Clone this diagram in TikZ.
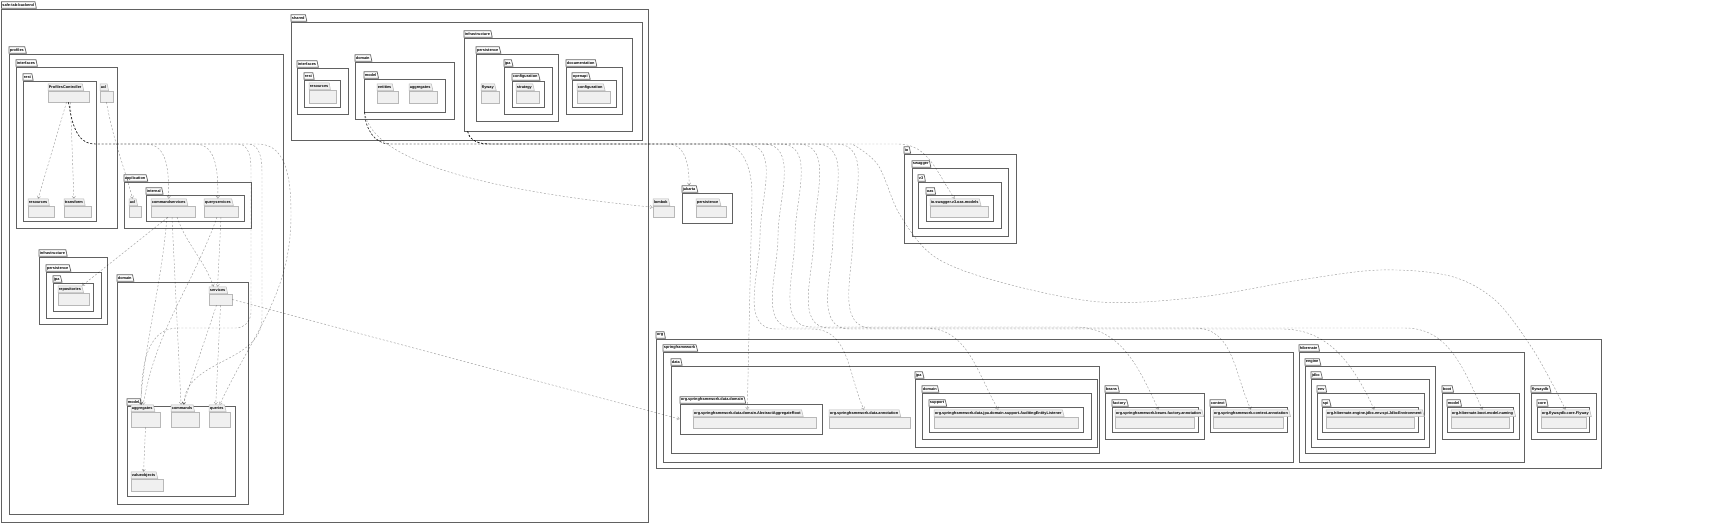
\documentclass[tikz,border=0pt]{standalone}
\usepackage{fontspec}
\setmainfont{Liberation Sans}
\usetikzlibrary{shapes.geometric,arrows.meta,positioning,fit}

\begin{document}
\begin{tikzpicture}[
    x=1pt, y=-1pt,
    % Package frames, empty packages and their tabs
    pkg/.style={draw=black!62, line width=0.7pt, fill=white, inner sep=0pt},
    leaf/.style={draw=black!28, line width=0.5pt, fill=black!6, inner sep=0pt},
    tab/.style={trapezium, trapezium left angle=90, trapezium right angle=70, trapezium stretches=true, draw=black!62, line width=0.7pt, fill=white, font={\fontsize{3.85}{4.6}\selectfont\bfseries}, inner xsep=0.9pt, inner ysep=0.5pt, minimum height=6.6pt, anchor=bottom left corner},
    leaftab/.style={tab, draw=black!28, line width=0.5pt, fill=black!6},
    % Dependencies
    dep/.style={-{Straight Barb[length=2.2pt,width=3.4pt]}, dash pattern=on 2pt off 1.8pt, line width=0.45pt, draw=black, draw opacity=0.38}
]

\useasboundingbox (0,0) rectangle (1731,523);

% Backend root
\node[pkg, fit={(1.5,9) (648,522)}] (backend) {};
\node[tab] (backend-tab) at (backend.north west) {safe-tab-backend};

% Profiles bounded context
\node[pkg, fit={(9,54) (283,514)}] (profiles) {};
\node[tab] (profiles-tab) at (profiles.north west) {profiles};

\node[pkg, fit={(16,67) (117,228)}] (pinterfaces) {};
\node[tab] (pinterfaces-tab) at (pinterfaces.north west) {interfaces};
\node[pkg, fit={(23,81) (96,221)}] (prest) {};
\node[tab] (prest-tab) at (prest.north west) {rest};
\node[leaf, fit={(48,91) (89,102)}] (ctrl) {};
\node[leaftab] (ctrl-tab) at (ctrl.north west) {ProfilesController};
\node[leaf, fit={(28,206) (54,217)}] (resources) {};
\node[leaftab] (resources-tab) at (resources.north west) {resources};
\node[leaf, fit={(64,206) (91,217)}] (transform) {};
\node[leaftab] (transform-tab) at (transform.north west) {transform};
\node[leaf, fit={(100,91) (113,102)}] (papi) {};
\node[leaftab] (papi-tab) at (papi.north west) {acl};

\node[pkg, fit={(124,182) (251,228)}] (application) {};
\node[tab] (application-tab) at (application.north west) {application};
\node[leaf, fit={(129,206) (141,217)}] (scl) {};
\node[leaftab] (scl-tab) at (scl.north west) {acl};
\node[pkg, fit={(146,195) (244,221)}] (internal) {};
\node[tab] (internal-tab) at (internal.north west) {internal};
\node[leaf, fit={(151,206) (195,217)}] (cmdsvc) {};
\node[leaftab] (cmdsvc-tab) at (cmdsvc.north west) {commandservices};
\node[leaf, fit={(204,206) (238,217)}] (qrysvc) {};
\node[leaftab] (qrysvc-tab) at (qrysvc.north west) {queryservices};

\node[pkg, fit={(39,257) (107,324)}] (pinfra) {};
\node[tab] (pinfra-tab) at (pinfra.north west) {infrastructure};
\node[pkg, fit={(46,272) (101,318)}] (ppersist) {};
\node[tab] (ppersist-tab) at (ppersist.north west) {persistence};
\node[pkg, fit={(53,283) (93,311)}] (pjpa) {};
\node[tab] (pjpa-tab) at (pjpa.north west) {jpa};
\node[leaf, fit={(58,293) (89,305)}] (repos) {};
\node[leaftab] (repos-tab) at (repos.north west) {repositories};

\node[pkg, fit={(117,282) (248,504)}] (pdomain) {};
\node[tab] (pdomain-tab) at (pdomain.north west) {domain};
\node[leaf, fit={(209,294) (232,305)}] (services) {};
\node[leaftab] (services-tab) at (services.north west) {services};
\node[pkg, fit={(127,406) (235,496)}] (pmodel) {};
\node[tab] (pmodel-tab) at (pmodel.north west) {model};
\node[leaf, fit={(131,412) (160,427)}] (aggs) {};
\node[leaftab] (aggs-tab) at (aggs.north west) {aggregates};
\node[leaf, fit={(171,412) (199,427)}] (cmds) {};
\node[leaftab] (cmds-tab) at (cmds.north west) {commands};
\node[leaf, fit={(209,412) (230,427)}] (qrys) {};
\node[leaftab] (qrys-tab) at (qrys.north west) {queries};
\node[leaf, fit={(131,479) (163,491)}] (valobj) {};
\node[leaftab] (valobj-tab) at (valobj.north west) {valueobjects};

% Shared kernel
\node[pkg, fit={(291,22) (642,140)}] (shared) {};
\node[tab] (shared-tab) at (shared.north west) {shared};

\node[pkg, fit={(297,68) (348,114)}] (sinterfaces) {};
\node[tab] (sinterfaces-tab) at (sinterfaces.north west) {interfaces};
\node[pkg, fit={(304,80) (340,107)}] (srest) {};
\node[tab] (srest-tab) at (srest.north west) {rest};
\node[leaf, fit={(309,90) (336,103)}] (sresources) {};
\node[leaftab] (sresources-tab) at (sresources.north west) {resources};

\node[pkg, fit={(355,62) (454,119)}] (sdomain) {};
\node[tab] (sdomain-tab) at (sdomain.north west) {domain};
\node[pkg, fit={(364,79) (445,112)}] (smodel) {};
\node[tab] (smodel-tab) at (smodel.north west) {model};
\node[leaf, fit={(377,91) (398,103)}] (entities) {};
\node[leaftab] (entities-tab) at (entities.north west) {entities};
\node[leaf, fit={(409,91) (437,103)}] (saggs) {};
\node[leaftab] (saggs-tab) at (saggs.north west) {aggregates};

\node[pkg, fit={(464,38) (632,131)}] (sinfra) {};
\node[tab] (sinfra-tab) at (sinfra.north west) {infrastructure};
\node[pkg, fit={(476,54) (558,121)}] (spersist) {};
\node[tab] (spersist-tab) at (spersist.north west) {persistence};
\node[leaf, fit={(481,91) (499,103)}] (flyway) {};
\node[leaftab] (flyway-tab) at (flyway.north west) {flyway};
\node[pkg, fit={(504,67) (552,114)}] (sjpa) {};
\node[tab] (sjpa-tab) at (sjpa.north west) {jpa};
\node[pkg, fit={(512,81) (544,107)}] (sjpaconf) {};
\node[tab] (sjpaconf-tab) at (sjpaconf.north west) {configuration};
\node[leaf, fit={(516,91) (539,103)}] (strategy) {};
\node[leaftab] (strategy-tab) at (strategy.north west) {strategy};
\node[pkg, fit={(566,67) (622,114)}] (docs) {};
\node[tab] (docs-tab) at (docs.north west) {documentation};
\node[pkg, fit={(572,80) (616,107)}] (openapi) {};
\node[tab] (openapi-tab) at (openapi.north west) {openapi};
\node[leaf, fit={(577,91) (610,103)}] (openapiconf) {};
\node[leaftab] (openapiconf-tab) at (openapiconf.north west) {configuration};

% Third party packages
\node[leaf, fit={(653,206) (674,217)}] (lombok) {};
\node[leaftab] (lombok-tab) at (lombok.north west) {lombok};
\node[pkg, fit={(682,193) (732,223)}] (jakarta) {};
\node[tab] (jakarta-tab) at (jakarta.north west) {jakarta};
\node[leaf, fit={(696,206) (726,217)}] (jpersist) {};
\node[leaftab] (jpersist-tab) at (jpersist.north west) {persistence};

\node[pkg, fit={(904,154) (1016,243)}] (io) {};
\node[tab] (io-tab) at (io.north west) {io};
\node[pkg, fit={(912,168) (1008,236)}] (swagger) {};
\node[tab] (swagger-tab) at (swagger.north west) {swagger};
\node[pkg, fit={(918,182) (1001,228)}] (vthree) {};
\node[tab] (vthree-tab) at (vthree.north west) {v3};
\node[pkg, fit={(926,195) (993,221)}] (oas) {};
\node[tab] (oas-tab) at (oas.north west) {oas};
\node[leaf, fit={(930,206) (988,217)}] (oasmodels) {};
\node[leaftab] (oasmodels-tab) at (oasmodels.north west) {io.swagger.v3.oas.models};

\node[pkg, fit={(656,339) (1601,468)}] (org) {};
\node[tab] (org-tab) at (org.north west) {org};
\node[pkg, fit={(663,352) (1293,462)}] (spring) {};
\node[tab] (spring-tab) at (spring.north west) {springframework};
\node[pkg, fit={(671,366) (1099,453)}] (sdata) {};
\node[tab] (sdata-tab) at (sdata.north west) {data};
\node[pkg, fit={(680,404) (822,434)}] (datadomain) {};
\node[tab] (datadomain-tab) at (datadomain.north west) {org.springframework.data.domain};
\node[leaf, fit={(693,417) (816,428)}] (aggroot) {};
\node[leaftab] (aggroot-tab) at (aggroot.north west) {org.springframework.data.domain.AbstractAggregateRoot};
\node[leaf, fit={(829,417) (910,428)}] (dataanno) {};
\node[leaftab] (dataanno-tab) at (dataanno.north west) {org.springframework.data.annotation};
\node[pkg, fit={(915,379) (1097,447)}] (djpa) {};
\node[tab] (djpa-tab) at (djpa.north west) {jpa};
\node[pkg, fit={(922,393) (1091,439)}] (ddomain) {};
\node[tab] (ddomain-tab) at (ddomain.north west) {domain};
\node[pkg, fit={(929,407) (1083,432)}] (dsupport) {};
\node[tab] (dsupport-tab) at (dsupport.north west) {support};
\node[leaf, fit={(934,417) (1078,428)}] (auditing) {};
\node[leaftab] (auditing-tab) at (auditing.north west) {org.springframework.data.jpa.domain.support.AuditingEntityListener};
\node[pkg, fit={(1105,393) (1204,439)}] (beans) {};
\node[tab] (beans-tab) at (beans.north west) {beans};
\node[pkg, fit={(1112,407) (1198,432)}] (factory) {};
\node[tab] (factory-tab) at (factory.north west) {factory};
\node[leaf, fit={(1115,417) (1194,428)}] (beansanno) {};
\node[leaftab] (beansanno-tab) at (beansanno.north west) {org.springframework.beans.factory.annotation};
\node[pkg, fit={(1210,407) (1287,432)}] (context) {};
\node[tab] (context-tab) at (context.north west) {context};
\node[leaf, fit={(1213,417) (1283,428)}] (ctxanno) {};
\node[leaftab] (ctxanno-tab) at (ctxanno.north west) {org.springframework.context.annotation};

\node[pkg, fit={(1299,352) (1524,462)}] (hibernate) {};
\node[tab] (hibernate-tab) at (hibernate.north west) {hibernate};
\node[pkg, fit={(1305,366) (1435,453)}] (engine) {};
\node[tab] (engine-tab) at (engine.north west) {engine};
\node[pkg, fit={(1311,379) (1429,447)}] (jdbc) {};
\node[tab] (jdbc-tab) at (jdbc.north west) {jdbc};
\node[pkg, fit={(1317,393) (1424,439)}] (env) {};
\node[tab] (env-tab) at (env.north west) {env};
\node[pkg, fit={(1322,407) (1418,432)}] (spi) {};
\node[tab] (spi-tab) at (spi.north west) {spi};
\node[leaf, fit={(1326,417) (1414,428)}] (jdbcenv) {};
\node[leaftab] (jdbcenv-tab) at (jdbcenv.north west) {org.hibernate.engine.jdbc.env.spi.JdbcEnvironment};
\node[pkg, fit={(1442,393) (1519,439)}] (boot) {};
\node[tab] (boot-tab) at (boot.north west) {boot};
\node[pkg, fit={(1447,407) (1513,432)}] (hmodel) {};
\node[tab] (hmodel-tab) at (hmodel.north west) {model};
\node[leaf, fit={(1451,417) (1509,428)}] (naming) {};
\node[leaftab] (naming-tab) at (naming.north west) {org.hibernate.boot.model.naming};

\node[pkg, fit={(1531,393) (1596,439)}] (flywaydb) {};
\node[tab] (flywaydb-tab) at (flywaydb.north west) {flywaydb};
\node[pkg, fit={(1537,407) (1589,432)}] (fcore) {};
\node[tab] (fcore-tab) at (fcore.north west) {core};
\node[leaf, fit={(1541,417) (1586,428)}] (flywaycls) {};
\node[leaftab] (flywaycls-tab) at (flywaycls.north west) {org.flywaydb.core.Flyway};

% Profiles internal dependencies
\draw[dep] ([xshift=-2pt]ctrl.south) -- (resources-tab.north);
\draw[dep] ([xshift=2pt]ctrl.south) -- (transform-tab.north);
\draw[dep] (papi.south) to[out=-80,in=105] (scl-tab.north);
\draw[dep] (ctrl.south) to[out=-80,in=180] (95,144) -- (146,144) to[out=0,in=90] (cmdsvc-tab.north);
\draw[dep] (ctrl.south) to[out=-80,in=180] (95,144) -- (195,144) to[out=0,in=90] (qrysvc-tab.north);
\draw[dep] (ctrl.south) to[out=-80,in=180] (95,144) -- (238,144) to[out=0,in=90] (251,168) -- (251,312) to[out=-90,in=0] (236,328) -- (178,328) to[out=180,in=90] ([xshift=-1pt]aggs-tab.north);
\draw[dep] (ctrl.south) to[out=-80,in=180] (95,144) -- (248,144) to[out=0,in=90] (262,172) -- (262,318) to[out=-90,in=90] ([xshift=2pt]cmds-tab.north);
\draw[dep] (ctrl.south) to[out=-80,in=180] (95,144) -- (258,144) to[out=0,in=90] (291,215) to[out=-90,in=65] ([xshift=3pt]qrys-tab.north);

\draw[dep] ([xshift=-5pt]cmdsvc.south) -- (repos-tab.top right corner);
\draw[dep] ([xshift=-6pt]cmdsvc.south) to[out=-95,in=85] ([xshift=-2pt]aggs-tab.north);
\draw[dep] ([xshift=-1pt]cmdsvc.south) -- ([xshift=-1pt]cmds-tab.north);
\draw[dep] ([xshift=4pt]cmdsvc.south) to[out=-70,in=110] ([xshift=-4pt]services-tab.north);
\draw[dep] ([xshift=-4pt]qrysvc.south) to[out=-110,in=80] ([xshift=1pt]aggs-tab.north);
\draw[dep] (qrysvc.south) -- (services-tab.north);

\draw[dep] ([xshift=-4pt]services.south) -- ([xshift=1pt]cmds-tab.north);
\draw[dep] (services.south) -- ([xshift=-1pt]qrys-tab.north);
\draw[dep] (aggs.south) -- (valobj-tab.north);
\draw[dep] (services.east) -- (datadomain.west);

% Shared kernel to third party packages
\draw[dep] ([xshift=1pt]smodel.south west) .. controls (372,160) and (480,190) .. ([yshift=-1.5pt]lombok.north west);
\draw[dep] ([xshift=1pt]smodel.south west) to[out=-88,in=180] (390,144) -- (668,144) to[out=0,in=90] (jakarta-tab.north);
\draw[dep] ([xshift=1pt]smodel.south west) to[out=-88,in=180] (390,144) -- (722,144) to[out=0,in=90] (752,195) -- (aggroot-tab.north);
\draw[dep] ([xshift=1pt]smodel.south west) to[out=-88,in=180] (390,144) -- (745,144) to[out=0,in=90] (760,236) to[out=-90,in=180] (776,329) -- (812,329) to[out=0,in=115] (dataanno-tab.north);
\draw[dep] ([xshift=1pt]smodel.south west) to[out=-88,in=180] (390,144) -- (763,144) to[out=0,in=90] (778,236) to[out=-90,in=180] (794,328) -- (925,328) to[out=0,in=120] (auditing-tab.north);

\draw[dep] ([xshift=4pt]sinfra.south west) to[out=-80,in=180] (490,144) -- (780,144) to[out=0,in=90] (795,236) to[out=-90,in=180] (812,327) -- (1075,327) to[out=0,in=115] (beansanno-tab.north);
\draw[dep] ([xshift=4pt]sinfra.south west) to[out=-80,in=180] (490,144) -- (798,144) to[out=0,in=90] (814,236) to[out=-90,in=180] (830,328) -- (1195,328) to[out=0,in=115] (ctxanno-tab.north);
\draw[dep] ([xshift=4pt]sinfra.south west) to[out=-80,in=180] (490,144) -- (816,144) to[out=0,in=90] (833,236) to[out=-90,in=180] (850,329) -- (1282,329) to[out=0,in=115] (jdbcenv-tab.north);
\draw[dep] ([xshift=4pt]sinfra.south west) to[out=-80,in=180] (490,144) -- (836,144) to[out=0,in=90] (853,236) to[out=-90,in=180] (872,328) -- (1405,328) to[out=0,in=115] (naming-tab.north);
\draw[dep] ([xshift=4pt]sinfra.south west) to[out=-80,in=180] (490,144) -- (852,144) -- plot[smooth, tension=0.55] coordinates {(852,144) (878,165) (900,215) (935,257) (1000,282) (1100,302) (1200,297) (1300,280) (1380,270) (1450,276) (1495,300) (1530,345) (1553,385) (flywaycls-tab.north)};
\draw[dep] ([xshift=4pt]sinfra.south west) to[out=-80,in=180] (490,144) -- (898,144) to[out=0,in=125] (oasmodels-tab.north);

\end{tikzpicture}
\end{document}
